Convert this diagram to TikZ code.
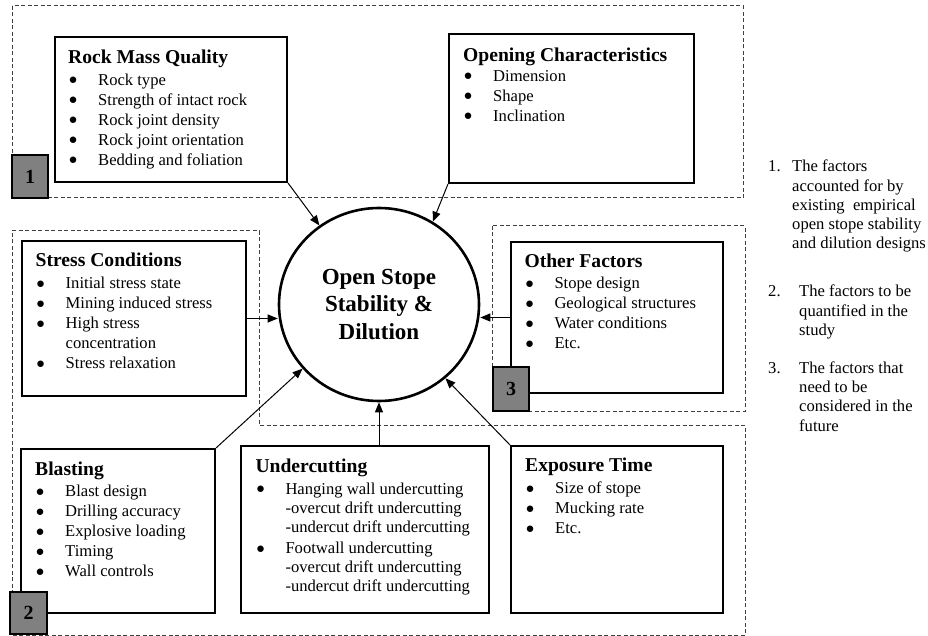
\documentclass[tikz,border=0pt]{standalone}
\usepackage{fontspec}
\setmainfont{Liberation Serif}
\usetikzlibrary{arrows.meta,shapes.geometric}

\newcommand{\bul}{\makebox[30pt][l]{\hspace{0.5pt}\raisebox{0.3pt}[0pt][0pt]{\fontsize{15}{15}\selectfont ●}}}
\newcommand{\ind}{\hspace*{30pt}}
\newcommand{\ttl}[1]{\rule{0pt}{15pt}{\fontsize{19.6}{22}\selectfont\bfseries #1}}

\begin{document}
\begin{tikzpicture}[x=1pt,y=-1pt]
\tikzstyle{every node}+=[inner sep=0pt]
\tikzstyle{factor}=[draw,rectangle,line width=2pt]
\tikzstyle{items}=[anchor=north west,align=left,font=\fontsize{16.6}{20}\selectfont]
\tikzstyle{numbox}=[draw,line width=1.5pt,fill=gray,font=\fontsize{20}{24}\selectfont\bfseries]
\tikzstyle{zone}=[black!75,line width=1pt,dash pattern=on 4pt off 2.5pt]
\tikzstyle{feed}=[line width=1pt,-{Triangle[length=10pt,width=8pt]}]
\tikzstyle{legend}=[anchor=north west,align=left,font=\fontsize{16.6}{19.2}\selectfont]
\useasboundingbox (0,0) rectangle (928,636);

\draw [zone] (12,6) rectangle (743,198);
\draw [zone] (492,226) rectangle (745,411);
\draw [zone] (12,231) -- (259,231) -- (259,425) -- (745,425) -- (745,635) -- (12,635) -- cycle;

\node [draw,ellipse,line width=2.6pt,minimum width=200pt,minimum height=193pt,align=center,
  font=\fontsize{23}{27.5}\selectfont\bfseries] (hub) at (379,304.5) {Open Stope\\Stability \&\\Dilution};

\node [factor,minimum width=232pt,minimum height=145pt] (rmq) at (171,109.5) {};
\node [factor,minimum width=245pt,minimum height=149pt] (opening) at (571.5,108.5) {};
\node [factor,minimum width=224pt,minimum height=155pt] (stress) at (134,318.5) {};
\node [factor,minimum width=212pt,minimum height=151pt] (other) at (617,317.5) {};
\node [factor,minimum width=194pt,minimum height=164pt] (blasting) at (118,531) {};
\node [factor,minimum width=248pt,minimum height=167pt] (undercut) at (365,529.5) {};
\node [factor,minimum width=212pt,minimum height=167pt] (exposure) at (617,529.5) {};

\node [items] (rmqtext) at (68,48) {\ttl{Rock Mass Quality}\\[2pt]
  \bul Rock type\\ \bul Strength of intact rock\\ \bul Rock joint density\\
  \bul Rock joint orientation\\ \bul Bedding and foliation};
\node [items] (openingtext) at (463,46) {\ttl{Opening Characteristics}\\
  \bul Dimension\\ \bul Shape\\ \bul Inclination};
\node [items] (stresstext) at (35.5,251.7) {\ttl{Stress Conditions}\\[1.6pt]
  \bul Initial stress state\\ \bul Mining induced stress\\ \bul High stress\\
  \ind concentration\\ \bul Stress relaxation};
\node [items] (othertext) at (524.3,252.3) {\ttl{Other Factors}\\[1pt]
  \bul Stope design\\ \bul Geological structures\\ \bul Water conditions\\ \bul Etc.};
\node [items] (blastingtext) at (35,460) {\ttl{Blasting}\\[1.7pt]
  \bul Blast design\\ \bul Drilling accuracy\\ \bul Explosive loading\\
  \bul Timing\\ \bul Wall controls};
\node [items,font=\fontsize{16.6}{19}\selectfont] (undercuttext) at (255.3,457.7) {\ttl{Undercutting}\\[2.3pt]
  \bul Hanging wall undercutting\\ \ind -overcut drift undercutting\\
  \ind -undercut drift undercutting\\[2.7pt] \bul Footwall undercutting\\
  \ind -overcut drift undercutting\\ \ind -undercut drift undercutting};
\node [items] (exposuretext) at (525,456.7) {\ttl{Exposure Time}\\[1.6pt]
  \bul Size of stope\\ \bul Mucking rate\\ \bul Etc.};

\node [numbox,minimum width=36pt,minimum height=43pt] (lab1) at (30,176.5) {1};
\node [numbox,minimum width=36pt,minimum height=44pt] (lab3) at (511,389) {3};
\node [numbox,minimum width=37pt,minimum height=42pt] (lab2) at (28.5,613) {2};

\draw [feed] (rmq.south east) -- (hub.127);
\draw [feed] (opening.south west) -- (hub.57);
\draw [feed] (stress.east) -- (stress.east -| hub.west);
\draw [feed] (other.west) -- (other.west -| hub.east);
\draw [feed] (blasting.north east) -- (hub.220);
\draw [feed] (hub.south |- undercut.north) -- (hub.south);
\draw [feed] (exposure.north west) -- (hub.312);

\node [legend] (leg1) at (768,157.7) {\rule{0pt}{14pt}\makebox[24pt][l]{1.}The factors\\
  \hspace*{24pt}accounted for by\\ \hspace*{24pt}existing\ \ empirical\\
  \hspace*{24pt}open stope stability\\ \hspace*{24pt}and dilution designs};
\node [legend] (leg2) at (768,282.7) {\rule{0pt}{14pt}\makebox[31pt][l]{2.}The factors to be\\
  \hspace*{31pt}quantified in the\\ \hspace*{31pt}study};
\node [legend] (leg3) at (768,359.3) {\rule{0pt}{14pt}\makebox[31pt][l]{3.}The factors that\\
  \hspace*{31pt}need to be\\ \hspace*{31pt}considered in the\\ \hspace*{31pt}future};
\end{tikzpicture}
\end{document}
